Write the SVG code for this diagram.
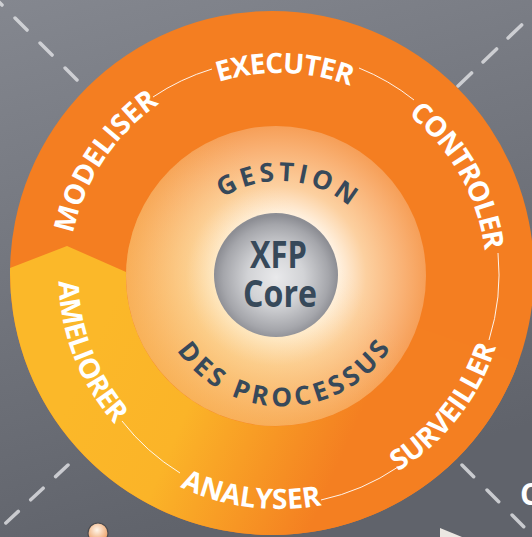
<svg xmlns="http://www.w3.org/2000/svg" xmlns:xlink="http://www.w3.org/1999/xlink" width="532" height="537" viewBox="0 0 532 537">
<defs>
<linearGradient id="bg" x1="0" y1="0" x2="0.3" y2="1">
<stop offset="0" stop-color="#84878f"/>
<stop offset="1" stop-color="#60636b"/>
</linearGradient>
<linearGradient id="yel" gradientUnits="userSpaceOnUse" x1="100" y1="330" x2="420" y2="470">
<stop offset="0" stop-color="#fbb829"/>
<stop offset="0.32" stop-color="#fbb428"/>
<stop offset="0.78" stop-color="#f47f21"/>
</linearGradient>
<radialGradient id="pale" cx="276" cy="276" r="150" gradientUnits="userSpaceOnUse">
<stop offset="0" stop-color="#ffffff"/>
<stop offset="0.42" stop-color="#fff1e0"/>
<stop offset="0.6" stop-color="#fcd0a0"/>
<stop offset="0.85" stop-color="#f9b174"/>
<stop offset="1" stop-color="#f69f58"/>
</radialGradient>
<linearGradient id="paleY" gradientUnits="userSpaceOnUse" x1="150" y1="400" x2="330" y2="250">
<stop offset="0" stop-color="#fbc65a" stop-opacity="0.55"/>
<stop offset="1" stop-color="#fbc65a" stop-opacity="0"/>
</linearGradient>
<radialGradient id="core" cx="0.5" cy="0.52" r="0.5">
<stop offset="0" stop-color="#e9e9eb"/>
<stop offset="0.45" stop-color="#d2d3d6"/>
<stop offset="0.85" stop-color="#a5a6ab"/>
<stop offset="1" stop-color="#8d8e94"/>
</radialGradient>
<radialGradient id="bead" cx="0.45" cy="0.35" r="0.6">
<stop offset="0" stop-color="#fff6ea"/>
<stop offset="1" stop-color="#eea36a"/>
</radialGradient>
<path id="pExec" d="M76.35,253.55 A204,204 0 0 1 482.64,264.9"/>
<path id="pCont" d="M193.28,88.03 A207.5,207.5 0 0 1 396.23,448.21"/>
<path id="pMod" d="M147.67,441.51 A210.5,210.5 0 0 1 379.76,92.19"/>
<path id="pAme" d="M198.0,71.38 A221,221 0 0 0 360.0,482.62"/>
<path id="pAna" d="M48.88,247.52 A232,232 0 0 0 509.12,306.48"/>
<path id="pSur" d="M138.0,456.18 A228,228 0 0 0 420.0,97.82"/>
<path id="pGes" d="M174.32,271.26 A107,107 0 0 1 386.98,286.13"/>
<path id="pDes" d="M155.09,290.32 A128.5,128.5 0 0 0 411.1,288.08"/>
</defs>
<style>
.lbl{font-family:"Open Sans","Liberation Sans",sans-serif;font-weight:700;font-size:28px;fill:#ffffff}
.inner{font-family:"Open Sans","Liberation Sans",sans-serif;font-weight:700;font-size:26px;fill:#37495a}
.core{font-family:"Open Sans","Liberation Sans",sans-serif;font-weight:700;font-size:38px;fill:#37495a}
.dash{stroke:#dcdde0;stroke-width:3.5;stroke-linecap:round;opacity:0.85;fill:none}
.conn{stroke:#ffffff;stroke-width:1;fill:none;opacity:0.9}
</style>
<rect id="background" x="0" y="0" width="532" height="537" fill="url(#bg)"/>
<g id="dashes">
<line class="dash" x1="-10" y1="-7" x2="77" y2="80" stroke-dasharray="17 18.4"/>
<line class="dash" x1="458" y1="86" x2="533" y2="14" stroke-dasharray="18.8 15.9"/>
<line class="dash" x1="68" y1="465" x2="-7" y2="535" stroke-dasharray="17 17"/>
<line class="dash" x1="462" y1="465" x2="537" y2="540" stroke-dasharray="16.5 18.9"/>
</g>
<g id="ring">
<circle cx="272" cy="273" r="262" fill="#f47e21"/>
<path d="M10.05,268 L67,246 L126,272 A150,150 0 0 0 416.95,327.3 L518.2,362.6 A262,262 0 0 1 10.05,268 Z" fill="url(#yel)"/>
</g>
<g id="gestion-ring">
<circle cx="276" cy="276" r="150" fill="url(#pale)"/>
<circle cx="276" cy="276" r="150" fill="url(#paleY)"/>
<text class="inner"><textPath xlink:href="#pGes" href="#pGes" startOffset="50%" text-anchor="middle" textLength="136">GESTION</textPath></text>
<text class="inner"><textPath xlink:href="#pDes" href="#pDes" startOffset="50%" text-anchor="middle" textLength="252">DES PROCESSUS</textPath></text>
</g>
<g id="xfp-core">
<circle cx="276" cy="275" r="62" fill="url(#core)"/>
<text class="core" x="278.5" y="268" text-anchor="middle" textLength="57" lengthAdjust="spacingAndGlyphs">XFP</text>
<text class="core" x="280" y="307" text-anchor="middle" textLength="74" lengthAdjust="spacingAndGlyphs">Core</text>
</g>
<g id="connectors">
<path class="conn" d="M153,97 A220,220 0 0 1 212,69"/>
<path class="conn" d="M359,68 A220,220 0 0 1 414,100"/>
<path class="conn" d="M498,253 A220,220 0 0 1 489,340"/>
<path class="conn" d="M398,467 A220,220 0 0 1 321,500"/>
<path class="conn" d="M180,473 A220,220 0 0 1 122,421"/>
</g>
<g id="node-executer"><text class="lbl"><textPath xlink:href="#pExec" href="#pExec" startOffset="50%" text-anchor="middle" textLength="134">EXECUTER</textPath></text></g>
<g id="node-controler"><text class="lbl"><textPath xlink:href="#pCont" href="#pCont" startOffset="50%" text-anchor="middle" textLength="160">CONTROLER</textPath></text></g>
<g id="node-surveiller"><text class="lbl"><textPath xlink:href="#pSur" href="#pSur" startOffset="50%" text-anchor="middle" textLength="162">SURVEILLER</textPath></text></g>
<g id="node-analyser"><text class="lbl"><textPath xlink:href="#pAna" href="#pAna" startOffset="50%" text-anchor="middle" textLength="145">ANALYSER</textPath></text></g>
<g id="node-ameliorer"><text class="lbl"><textPath xlink:href="#pAme" href="#pAme" startOffset="50%" text-anchor="middle" textLength="157">AMELIORER</textPath></text></g>
<g id="node-modeliser"><text class="lbl"><textPath xlink:href="#pMod" href="#pMod" startOffset="50%" text-anchor="middle" textLength="160">MODELISER</textPath></text></g>
<g id="extras">
<circle cx="98" cy="533" r="10" fill="url(#bead)" stroke="#4a4b50" stroke-width="1.2"/>
<polygon points="440,528 462,537 440,537" fill="#ebe7e2"/>
<text x="520" y="505" font-family="Open Sans, Liberation Sans, sans-serif" font-weight="700" font-size="30" fill="#ffffff">C</text>
</g>
</svg>
